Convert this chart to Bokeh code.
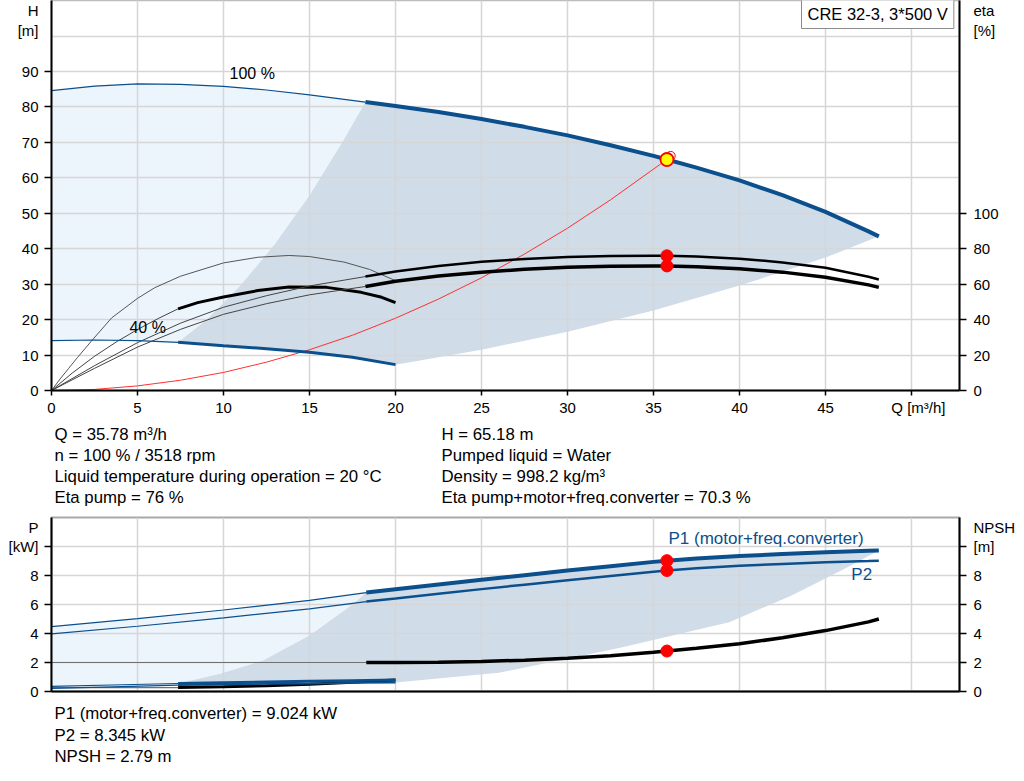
from bokeh.plotting import figure
from bokeh.models import Range1d, LinearAxis, FixedTicker, Label
from bokeh.layouts import column
from bokeh.embed import file_html
from bokeh.resources import INLINE

FONT = "Liberation Sans"
BLUE = "#0B4F8C"
LIGHT = "#EDF5FC"
DARK = "#D0DCE7"
GRID = "#D6D6D6"

# ---------------- data: upper chart (H / eta) ----------------
q_marks = [0, 5, 10, 15, 20, 25, 30, 35, 40, 45, 50]
q_labels = [0, 5, 10, 15, 20, 25, 30, 35, 40, 45]
q_unit_pos = 50.4
h_marks = [0, 10, 20, 30, 40, 50, 60, 70, 80, 90]
h_unit_pos = [101.6, 107.2]          # "[m]", "H"
eta_marks = [0, 20, 40, 60, 80, 100]
eta_unit_pos = [203.2, 214.4]        # "[%]", "eta"

q100_thin = [0, 2.5, 5, 7.5, 10, 12.5, 15, 18.25]
h100_thin = [84.6, 85.9, 86.5, 86.4, 85.8, 84.8, 83.4, 81.4]
q100 = [18.25, 20, 22.5, 25, 27.5, 30, 32.5, 35, 35.78, 37.5, 40, 42.5, 45, 47.5, 48.1]
h100 = [81.4, 80.3, 78.6, 76.6, 74.4, 72.0, 69.2, 66.2, 65.18, 62.9, 59.3, 55.1, 50.4, 44.9, 43.5]

q40_thin = [0, 2.5, 5, 7.36]
h40_thin = [14.1, 14.25, 14.1, 13.6]
q40 = [7.36, 10, 12.5, 15, 17.5, 20]
h40 = [13.6, 12.6, 11.8, 10.8, 9.4, 7.3]

qmin_edge = [7.36, 9, 11, 13, 15, 17, 18.25]
hmin_edge = [13.6, 19.9, 29.7, 41.4, 55.0, 70.8, 81.4]
qmax_edge = [48.1, 45, 40, 35, 30, 25, 20]
hmax_edge = [43.5, 37.5, 29.6, 22.6, 16.6, 11.5, 7.3]

q_sys = [0, 2.5, 5, 7.5, 10, 12.5, 15, 17.5, 20, 22.5, 25, 27.5, 30, 32.5, 35.78]
h_sys = [0, 0.3, 1.3, 2.9, 5.1, 8.0, 11.5, 15.6, 20.4, 25.8, 31.8, 38.5, 45.8, 53.8, 65.18]

q_eta_thin = [0, 2.5, 5, 7.5, 10, 12.5, 15, 18.25]
eta_pump_thin = [0, 14, 27, 38, 47, 53.5, 59, 64.3]
eta_tot_thin = [0, 12.5, 24.5, 34.5, 43, 49, 54, 58.7]
q_eta = [18.25, 20, 22.5, 25, 27.5, 30, 32.5, 35, 35.78, 37.5, 40, 42.5, 45, 47.5, 48.1]
eta_pump = [64.3, 67.2, 70.3, 72.6, 74.2, 75.3, 75.9, 76.0, 76.0, 75.6, 74.4, 72.3, 69.3, 64.2, 62.6]
eta_tot = [58.7, 61.6, 64.6, 66.8, 68.4, 69.5, 70.1, 70.3, 70.3, 69.9, 68.7, 66.8, 63.9, 59.6, 58.2]

q_eta40_pump = [0, 0.5, 1, 1.5, 2.33, 3.5, 5, 6, 7.5, 10, 12, 13.8, 15, 17, 18.5, 20]
eta40_pump = [0, 6.5, 12.5, 18.5, 28, 41, 52, 58, 64.5, 72, 75.2, 76.2, 75.6, 72.5, 68.3, 62]
q_eta40_thin = [0, 1.2, 2.5, 3.8, 5, 6.2, 7.36]
eta40_tot_thin = [0, 9.8, 19.3, 27.6, 34.4, 40.6, 46.1]
q_eta40 = [7.36, 8.5, 10, 12, 13.8, 16, 18, 19.2, 20]
eta40_tot = [46.1, 49.6, 52.8, 56.4, 58.4, 58.2, 55.4, 52.6, 49.6]

op_q = [35.78]
op_h = [65.18]
op_eta = [76.0, 70.3]
duty_q = [36.0]
duty_h = [66.2]

# ---------------- data: lower chart (P / NPSH) ----------------
p_marks = [0, 2, 4, 6, 8, 10]
p_labels = [0, 2, 4, 6, 8, 10]
p_unit_pos = 11.31
p_grid = [0, 2, 4, 6, 8, 10, 12]

qp_thin = [0, 5, 10, 15, 18.3]
p1_thin = [4.48, 5.03, 5.62, 6.28, 6.82]
p2_thin = [3.98, 4.5, 5.08, 5.7, 6.2]
qp = [18.3, 20, 22.5, 25, 27.5, 30, 32.5, 35, 35.78, 37.5, 40, 42.5, 45, 47.5, 48.1]
p1 = [6.82, 7.05, 7.38, 7.7, 8.02, 8.34, 8.64, 8.94, 9.024, 9.17, 9.34, 9.48, 9.61, 9.7, 9.72]
p2 = [6.2, 6.41, 6.74, 7.06, 7.37, 7.68, 7.97, 8.26, 8.345, 8.5, 8.67, 8.8, 8.92, 9.0, 9.02]
npsh_thin_q = [0, 18.3]
npsh_thin = [2.0, 2.0]
npsh = [2.0, 2.0, 2.02, 2.07, 2.16, 2.3, 2.47, 2.7, 2.79, 2.98, 3.3, 3.7, 4.2, 4.8, 5.0]

q40p_thin = [0, 3.5, 7.36]
p1_40_thin = [0.36, 0.45, 0.55]
p2_40_thin = [0.22, 0.32, 0.44]
q40p = [7.36, 10, 12.5, 15, 17.5, 20]
p1_40 = [0.55, 0.6, 0.65, 0.7, 0.75, 0.8]
p2_40 = [0.44, 0.48, 0.52, 0.55, 0.59, 0.62]
npsh40_thin_q = [0, 7.36]
npsh40_thin = [0.27, 0.27]
npsh40 = [0.27, 0.32, 0.4, 0.5, 0.63, 0.8]

pmin_q = [7.36, 9.8, 12.3, 15.0, 17.5, 18.3]
pmin_p = [0.55, 1.22, 2.14, 3.86, 6.0, 6.82]
pmax_q = [48.1, 46, 43, 39.4, 33, 26, 20]
pmax_p = [9.72, 8.4, 6.6, 4.78, 3.0, 1.29, 0.62]

op_p = [9.024, 8.345, 2.79]

info_left = ["Q = 35.78 m³/h", "n = 100 % / 3518 rpm",
             "Liquid temperature during operation = 20 °C", "Eta pump = 76 %"]
info_right = ["H = 65.18 m", "Pumped liquid = Water", "Density = 998.2 kg/m³",
              "Eta pump+motor+freq.converter = 70.3 %"]
info_bottom = ["P1 (motor+freq.converter) = 9.024 kW", "P2 = 8.345 kW", "NPSH = 2.79 m"]

FRAME_L = 51
FRAME_W = 908
X_MAX = 52.79


def style_axis(ax, labelled, marks, overrides=None, standoff=6, mark_len=7):
    # labels sit on major ticks (no marks); the visible marks are minor ticks
    ax.ticker = FixedTicker(ticks=labelled, minor_ticks=marks)
    ax.axis_line_color = "black"
    ax.axis_line_width = 2
    ax.major_tick_out = 0
    ax.major_tick_in = 0
    ax.minor_tick_line_color = "black"
    ax.minor_tick_line_width = 1.5
    ax.minor_tick_out = mark_len
    ax.minor_tick_in = 0
    ax.major_label_text_font = FONT
    ax.major_label_text_font_size = "15px"
    ax.major_label_text_color = "black"
    ax.major_label_standoff = standoff
    if overrides:
        ax.major_label_overrides = overrides


def lab(fig, x, y, text, align="left", color="black", size="16.8px", units="data", **kw):
    fig.add_layout(Label(x=x, y=y, x_units=units, y_units=units, text=text,
                         text_align=align, text_baseline="middle", text_color=color,
                         text_font=FONT, text_font_size=size, **kw))


def text_fig(height):
    # the column aligns this frame with the charts' frames, so x is in page pixels
    f = figure(width=1024, height=height, x_range=Range1d(FRAME_L, FRAME_L + FRAME_W),
               y_range=Range1d(0, height), x_axis_type=None, y_axis_type=None,
               output_backend="svg", toolbar_location=None, title=None, min_border=0)
    f.outline_line_color = None
    f.background_fill_color = "white"
    f.border_fill_color = "white"
    f.xgrid.visible = False
    f.ygrid.visible = False
    return f


# ================= upper figure =================
top = figure(frame_width=FRAME_W, frame_height=390, x_range=Range1d(0, X_MAX),
             y_range=Range1d(0, 110.05), output_backend="svg", toolbar_location=None,
             title=None, min_border_left=FRAME_L, min_border_right=1024 - FRAME_L - FRAME_W,
             min_border_top=0, min_border_bottom=26)
top.extra_y_ranges = {"eta": Range1d(0, 220.1)}
top.add_layout(LinearAxis(y_range_name="eta"), "right")
top.background_fill_color = "white"
top.border_fill_color = "white"
top.outline_line_color = "#BDBDBD"
top.outline_line_width = 1.5

style_axis(top.yaxis[0], h_marks + h_unit_pos, h_marks,
           overrides={h_unit_pos[0]: "[m]", h_unit_pos[1]: "H"})
style_axis(top.yaxis[1], eta_marks + eta_unit_pos, eta_marks,
           overrides={eta_unit_pos[0]: "[%]", eta_unit_pos[1]: "eta"}, standoff=7)
style_axis(top.xaxis[0], q_labels + [q_unit_pos], q_marks,
           overrides={q_unit_pos: "Q [m³/h]"}, standoff=3, mark_len=5)

top.xgrid.ticker = FixedTicker(ticks=q_marks)
top.ygrid.ticker = FixedTicker(ticks=list(range(0, 110, 10)))
for g in (top.xgrid[0], top.ygrid[0]):
    g.grid_line_color = GRID
    g.grid_line_width = 1.5

light_x = q100_thin + qmin_edge[::-1] + q40_thin[::-1]
light_y = h100_thin + hmin_edge[::-1] + h40_thin[::-1]
top.patch(light_x, light_y, fill_color=LIGHT, line_color=None, level="image")
dark_x = qmin_edge + q100 + qmax_edge + q40[::-1]
dark_y = hmin_edge + h100 + hmax_edge + h40[::-1]
top.patch(dark_x, dark_y, fill_color=DARK, line_color=None, level="image")

top.line(q_sys, h_sys, line_color="#FF3030", line_width=1)

top.line(q_eta40_pump, eta40_pump, y_range_name="eta", line_color="#555555", line_width=1)
top.line(q_eta40_thin, eta40_tot_thin, y_range_name="eta", line_color="#444444", line_width=1)
top.line(q_eta40, eta40_tot, y_range_name="eta", line_color="black", line_width=3)
top.line(q_eta_thin, eta_pump_thin, y_range_name="eta", line_color="#444444", line_width=1)
top.line(q_eta_thin, eta_tot_thin, y_range_name="eta", line_color="#444444", line_width=1)
top.line(q_eta, eta_pump, y_range_name="eta", line_color="black", line_width=2.5)
top.line(q_eta, eta_tot, y_range_name="eta", line_color="black", line_width=3.5)

top.line(q100_thin, h100_thin, line_color=BLUE, line_width=1.2)
top.line(q100, h100, line_color=BLUE, line_width=4)
top.line(q40_thin, h40_thin, line_color=BLUE, line_width=1.2)
top.line(q40, h40, line_color=BLUE, line_width=3)

top.scatter(op_q * 2, op_eta, y_range_name="eta", size=12, fill_color="red", line_color="red")
top.scatter(duty_q, duty_h, size=9, fill_color=None, line_color="red", line_width=1)
top.scatter(op_q, op_h, size=13, fill_color="#FFFF00", line_color="red", line_width=1.8)

lab(top, 10.35, 89.4, "100 %", size="16px")
lab(top, 4.53, 17.8, "40 %", size="16px")
lab(top, 750, 377, "CRE 32-3, 3*500 V", units="screen", size="16.5px",
    background_fill_color="white", border_line_color="#8C8C8C", border_line_width=1,
    padding=6)

# ================= info block under upper chart =================
info1 = text_fig(94)
for i, t in enumerate(info_left):
    lab(info1, 54, 78 - 21 * i, t)
for i, t in enumerate(info_right):
    lab(info1, 441, 78 - 21 * i, t)

# ================= lower figure =================
bot = figure(frame_width=FRAME_W, frame_height=174, x_range=Range1d(0, X_MAX),
             y_range=Range1d(0, 12), output_backend="svg", toolbar_location=None,
             title=None, min_border_left=FRAME_L, min_border_right=1024 - FRAME_L - FRAME_W,
             min_border_top=5, min_border_bottom=10)
bot.add_layout(LinearAxis(), "right")
bot.background_fill_color = "white"
bot.border_fill_color = "white"
bot.outline_line_color = "#A8A8A8"
bot.outline_line_width = 2

style_axis(bot.yaxis[0], p_labels + [p_unit_pos], p_marks,
           overrides={10: "[kW]", p_unit_pos: "P"})
style_axis(bot.yaxis[1], p_labels + [p_unit_pos], p_marks,
           overrides={10: "[m]", p_unit_pos: "NPSH"}, standoff=7)
bx = bot.xaxis[0]
bx.ticker = FixedTicker(ticks=[])
bx.axis_line_color = "black"
bx.axis_line_width = 2
bx.major_tick_out = 0
bx.major_tick_in = 0
bx.minor_tick_out = 0
bx.minor_tick_in = 0
bx.major_label_standoff = 0

bot.xgrid.ticker = FixedTicker(ticks=q_marks)
bot.ygrid.ticker = FixedTicker(ticks=p_grid)
for g in (bot.xgrid[0], bot.ygrid[0]):
    g.grid_line_color = GRID
    g.grid_line_width = 1.5

plight_x = qp_thin + pmin_q[::-1] + q40p_thin[::-1]
plight_y = p1_thin + pmin_p[::-1] + p2_40_thin[::-1]
bot.patch(plight_x, plight_y, fill_color=LIGHT, line_color=None, level="image")
pdark_x = pmin_q + qp + pmax_q + q40p[::-1]
pdark_y = pmin_p + p1 + pmax_p + p2_40[::-1]
bot.patch(pdark_x, pdark_y, fill_color=DARK, line_color=None, level="image")

bot.line(npsh_thin_q, npsh_thin, line_color="#707070", line_width=1.2)
bot.line(qp, npsh, line_color="black", line_width=3.5)
bot.line(npsh40_thin_q, npsh40_thin, line_color="#707070", line_width=1.2)
bot.line(q40p, npsh40, line_color="black", line_width=3)

bot.line(qp_thin, p1_thin, line_color=BLUE, line_width=1.2)
bot.line(qp_thin, p2_thin, line_color=BLUE, line_width=1.2)
bot.line(qp, p1, line_color=BLUE, line_width=4)
bot.line(qp, p2, line_color=BLUE, line_width=2.5)
bot.line(q40p_thin, p1_40_thin, line_color=BLUE, line_width=1.2)
bot.line(q40p_thin, p2_40_thin, line_color=BLUE, line_width=1.2)
bot.line(q40p, p1_40, line_color=BLUE, line_width=3)
bot.line(q40p, p2_40, line_color=BLUE, line_width=1.8)

bot.scatter(op_q * 3, op_p, size=12, fill_color="red", line_color="red")

lab(bot, 35.87, 10.55, "P1 (motor+freq.converter)", color=BLUE, size="17px")
lab(bot, 46.5, 8.07, "P2", color=BLUE, size="17px")

# ================= info block under lower chart =================
info2 = text_fig(70)
for i, t in enumerate(info_bottom):
    lab(info2, 54, 58 - 21.5 * i, t)

layout = column(top, info1, bot, info2, spacing=0)
open("out.html", "w").write(file_html(layout, INLINE))
